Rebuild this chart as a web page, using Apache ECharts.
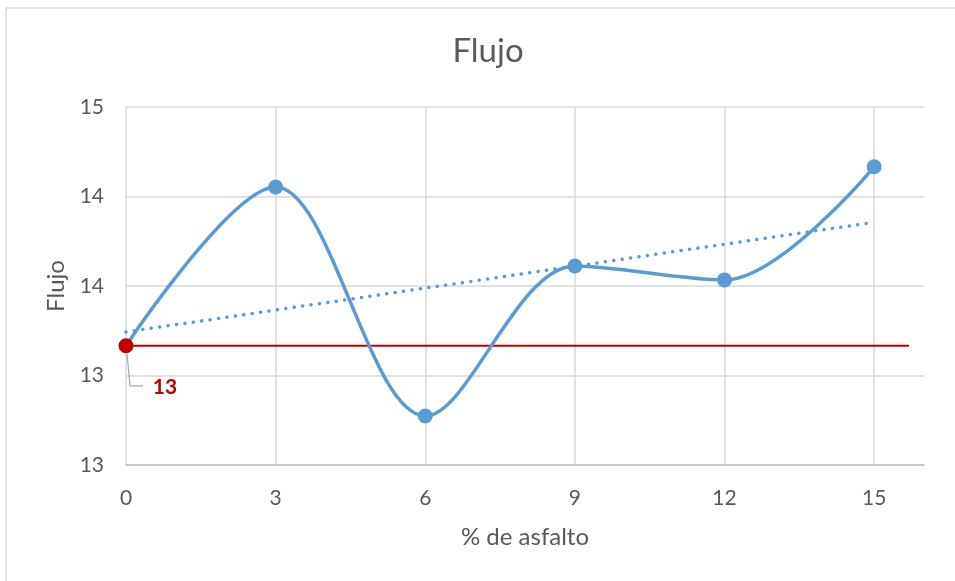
<!DOCTYPE html>
<html>
<head>
<meta charset="utf-8">
<script src="https://cdn.jsdelivr.net/npm/echarts@6/dist/echarts.min.js"></script>
<style>
  html, body { margin: 0; padding: 0; background: #fff; }
  #chart { width: 955px; height: 581px; }
</style>
</head>
<body>
<div id="chart"></div>
<script>
// % de asfalto vs. flujo
const asphaltPct = [0, 3, 6, 9, 12, 15];
const flowValues = [13.166, 14.053, 12.774, 13.612, 13.534, 14.166];
// linear trend, endpoints at 0 % and 15 %
const trendX = [0, 15];
const trendY = [13.243, 13.856];
// reference level through the first measurement
const refX = [0, 15.7];
const refY = [13.166, 13.166];
// y tick labels, shown without decimals
const yTickValues = [12.5, 13, 13.5, 14, 14.5];
const yTickLabels = ['13', '13', '14', '14', '15'];

const FONT = 'Lato';
const TXT = '#595959';
const BLUE = '#5B9BD5';
const RED = '#C00000';

const zip = (xs, ys) => xs.map((x, i) => [x, ys[i]]);

const mainData = zip(asphaltPct, flowValues).map((p, i) =>
  i === 0 ? { value: p, itemStyle: { color: RED } } : p
);

// callout for the first measurement: elbow leader line and rounded value
function renderCallout(params, api) {
  const pt = api.coord([api.value(0), api.value(1)]);
  const px = pt[0], py = pt[1];
  return {
    type: 'group',
    children: [
      {
        type: 'polyline',
        shape: { points: [[px + 1, py + 8], [px + 4, py + 40], [px + 17, py + 40]] },
        style: { stroke: '#A6A6A6', lineWidth: 1.2, fill: 'none' }
      },
      {
        type: 'text',
        x: px + 39,
        y: py + 41,
        style: {
          text: String(Math.round(api.value(1))),
          fill: RED,
          font: 'bold 21px ' + FONT,
          align: 'center',
          verticalAlign: 'middle'
        }
      }
    ]
  };
}

const chart = echarts.init(document.getElementById('chart'), null, { renderer: 'canvas' });
chart.setOption({
  animation: false,
  backgroundColor: '#fff',
  textStyle: { fontFamily: FONT },
  graphic: [{
    type: 'rect',
    shape: { x: 6, y: 8, width: 1200, height: 1200 },
    style: { fill: 'none', stroke: '#D9D9D9', lineWidth: 1.5 },
    silent: true
  }],
  title: {
    text: 'Flujo',
    left: 483,
    textAlign: 'center',
    top: 30,
    textStyle: { fontFamily: FONT, fontSize: 33, fontWeight: 'normal', color: TXT }
  },
  grid: { left: 126, right: 31, top: 107, bottom: 116, containLabel: false },
  xAxis: {
    type: 'value',
    min: 0, max: 16, interval: 3,
    name: '% de asfalto',
    nameLocation: 'middle',
    nameGap: 60,
    nameTextStyle: { fontFamily: FONT, fontSize: 24, color: TXT },
    axisLine: { show: true, lineStyle: { color: '#BFBFBF', width: 1.5 } },
    axisTick: { show: false },
    axisLabel: {
      margin: 23, fontFamily: FONT, fontSize: 21, color: TXT,
      showMaxLabel: false,
      formatter: (v) => (asphaltPct.includes(v) ? String(v) : '')
    },
    splitLine: { show: true, showMaxLine: false, lineStyle: { color: '#D9D9D9', width: 1.5 } }
  },
  yAxis: {
    type: 'value',
    min: 12.5, max: 14.5, interval: 0.5,
    name: 'Flujo',
    nameLocation: 'middle',
    nameGap: 58,
    nameRotate: 90,
    nameTextStyle: { fontFamily: FONT, fontSize: 24, color: TXT },
    axisLine: { show: false },
    axisTick: { show: false },
    axisLabel: {
      margin: 22, fontFamily: FONT, fontSize: 21, color: TXT,
      formatter: (v) => {
        const i = yTickValues.findIndex((t) => Math.abs(t - v) < 1e-9);
        return i >= 0 ? yTickLabels[i] : '';
      }
    },
    splitLine: { show: true, lineStyle: { color: '#D9D9D9', width: 1.5 } }
  },
  series: [
    {
      name: 'Ref',
      type: 'line',
      data: zip(refX, refY),
      symbol: 'none',
      lineStyle: { color: RED, width: 2 },
      z: 2
    },
    {
      name: 'Tendencia',
      type: 'line',
      data: zip(trendX, trendY),
      symbol: 'none',
      lineStyle: { color: BLUE, width: 3.5, type: [0.1, 8.4], cap: 'round' },
      z: 3
    },
    {
      name: 'Flujo',
      type: 'line',
      data: mainData,
      smooth: 0.33,
      symbol: 'circle',
      symbolSize: 15,
      itemStyle: { color: BLUE },
      lineStyle: { color: BLUE, width: 3.5 },
      z: 4
    },
    {
      name: 'Etiqueta',
      type: 'custom',
      data: [[asphaltPct[0], flowValues[0]]],
      renderItem: renderCallout,
      z: 5
    }
  ]
});
</script>
</body>
</html>
